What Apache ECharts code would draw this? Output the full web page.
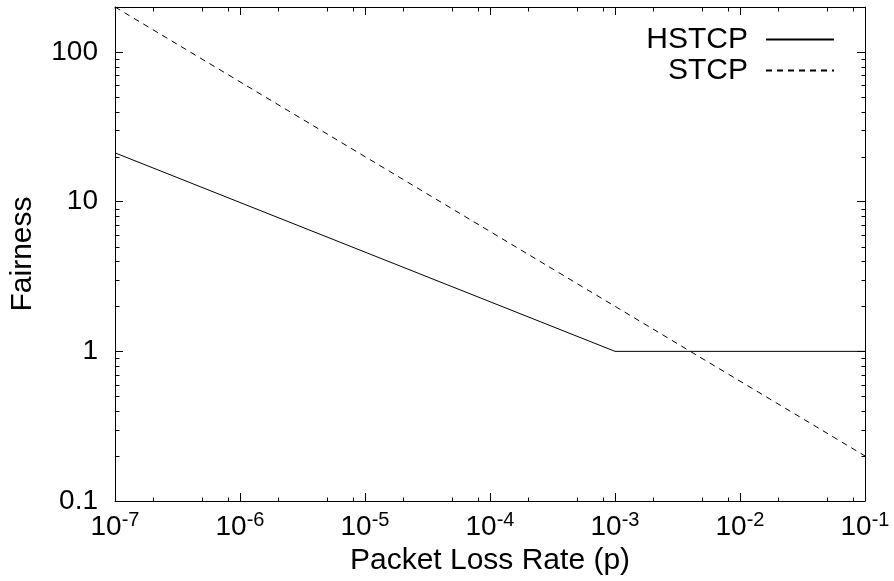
<!DOCTYPE html>
<html>
<head>
<meta charset="utf-8">
<script src="https://cdn.jsdelivr.net/npm/echarts@6/dist/echarts.min.js"></script>
<style>html,body{margin:0;padding:0;background:#fff}#c{width:894px;height:581px}</style>
</head>
<body>
<div id="c"></div>
<script>
// ---- data ----
const seriesNames = ['HSTCP', 'STCP'];
const hstcpX = [1e-7, 1e-3, 1e-1];
const hstcpY = [21.2, 1, 1];
const stcpX = [1e-7, 1e-1];
const stcpY = [200, 0.2];
const xRange = [1e-7, 1e-1];
const yRange = [0.1, 200];
const xDecades = [1e-7, 1e-6, 1e-5, 1e-4, 1e-3, 1e-2];
const xMinorMult = [2, 5, 8];
const yDecades = [0.1, 1, 10];
const yMinorMult = [2, 3, 4, 5, 6, 7, 8, 9];

const xMinor = [];
xDecades.forEach(d => xMinorMult.forEach(m => xMinor.push(+(d * m).toPrecision(6))));
const yMinor = [];
yDecades.forEach(d => yMinorMult.forEach(m => yMinor.push(+(d * m).toPrecision(6))));

const FONT = 'Liberation Sans, Arial, Helvetica, sans-serif';
const FS = 28;   // tick labels
const FW = 30;   // names and legend

function xLabel(v) {
  const e = Math.round(Math.log10(v));
  return '{b|10}{s|' + e + '}';
}
function yLabel(v) {
  return String(+v.toPrecision(6));
}

const chart = echarts.init(document.getElementById('c'), null, {renderer: 'canvas'});

const tickStyle = {show: true, inside: true, length: 8, lineStyle: {color: '#000', width: 1}};
const axisLine = {show: true, lineStyle: {color: '#000', width: 1}};

chart.setOption({
  animation: false,
  backgroundColor: '#fff',
  textStyle: {fontFamily: FONT},
  grid: {left: 114, right: 29, top: 7, bottom: 79, containLabel: false},
  legend: {
    data: seriesNames,
    orient: 'vertical',
    right: 54,
    top: 19,
    align: 'right',
    itemWidth: 68,
    itemHeight: 20,
    itemGap: 0,
    itemStyle: {color: 'rgba(0,0,0,0)', borderWidth: 0, opacity: 0},
    textStyle: {fontSize: FW, color: '#000', fontFamily: FONT, padding: [0, 13, 0, 0], lineHeight: 31},
    selectedMode: false
  },
  xAxis: [{
    type: 'log', logBase: 10, min: xRange[0], max: xRange[1], interval: 1,
    position: 'bottom',
    axisLine: axisLine, axisTick: tickStyle, splitLine: {show: false},
    axisLabel: {
      formatter: xLabel, margin: 6,
      rich: {
        b: {fontSize: FS, fontFamily: FONT, color: '#000', verticalAlign: 'bottom', lineHeight: 34},
        s: {fontSize: 20, fontFamily: FONT, color: '#000', verticalAlign: 'bottom', lineHeight: 34, padding: [0, 0, 11, 0]}
      }
    },
    name: 'Packet Loss Rate (p)', nameLocation: 'middle', nameGap: 45,
    nameTextStyle: {fontSize: FW, color: '#000', fontFamily: FONT}
  }, {
    type: 'log', logBase: 10, min: xRange[0], max: xRange[1], interval: 1,
    position: 'top',
    axisLine: axisLine, axisTick: tickStyle, splitLine: {show: false},
    axisLabel: {show: false}
  }],
  yAxis: [{
    type: 'log', logBase: 10, min: yRange[0], max: yRange[1], interval: 1,
    position: 'left',
    axisLine: axisLine, axisTick: tickStyle, splitLine: {show: false},
    axisLabel: {formatter: yLabel, fontSize: FS, color: '#000', fontFamily: FONT, margin: 17, showMaxLabel: false},
    name: 'Fairness', nameLocation: 'middle', nameGap: 77, nameRotate: 90,
    nameTextStyle: {fontSize: FW, color: '#000', fontFamily: FONT}
  }, {
    type: 'log', logBase: 10, min: yRange[0], max: yRange[1], interval: 1,
    position: 'right',
    axisLine: axisLine, axisTick: tickStyle, splitLine: {show: false},
    axisLabel: {show: false}
  }],
  series: [{
    name: seriesNames[0], type: 'line', xAxisIndex: 0, yAxisIndex: 0,
    data: hstcpX.map((x, i) => [x, hstcpY[i]]),
    symbol: 'none', showSymbol: false,
    lineStyle: {color: '#000', width: 1, type: 'solid'},
    itemStyle: {color: '#000'}
  }, {
    name: seriesNames[1], type: 'line', xAxisIndex: 0, yAxisIndex: 0,
    data: stcpX.map((x, i) => [x, stcpY[i]]),
    symbol: 'none', showSymbol: false,
    lineStyle: {color: '#000', width: 1, type: [6, 5]},
    itemStyle: {color: '#000'}
  }, {
    name: 'xminor', type: 'custom', xAxisIndex: 0, yAxisIndex: 0, silent: true,
    data: xMinor.map(v => [v, 1]),
    renderItem: function (params, api) {
      const cs = params.coordSys;
      const p = api.coord([api.value(0), 1]);
      const x = Math.round(p[0]) + 0.5;
      const b = Math.round(cs.y + cs.height) + 0.5;
      const t = Math.round(cs.y) + 0.5;
      return {type: 'group', children: [
        {type: 'line', shape: {x1: x, y1: b, x2: x, y2: b - 4}, style: {stroke: '#000', lineWidth: 1}},
        {type: 'line', shape: {x1: x, y1: t, x2: x, y2: t + 4}, style: {stroke: '#000', lineWidth: 1}}
      ]};
    }
  }, {
    name: 'yminor', type: 'custom', xAxisIndex: 0, yAxisIndex: 0, silent: true,
    data: yMinor.map(v => [1e-3, v]),
    renderItem: function (params, api) {
      const cs = params.coordSys;
      const p = api.coord([1e-3, api.value(1)]);
      const y = Math.round(p[1]) + 0.5;
      const l = Math.round(cs.x) + 0.5;
      const r = Math.round(cs.x + cs.width) + 0.5;
      return {type: 'group', children: [
        {type: 'line', shape: {x1: l, y1: y, x2: l + 4, y2: y}, style: {stroke: '#000', lineWidth: 1}},
        {type: 'line', shape: {x1: r, y1: y, x2: r - 4, y2: y}, style: {stroke: '#000', lineWidth: 1}}
      ]};
    }
  }]
});
</script>
</body>
</html>
